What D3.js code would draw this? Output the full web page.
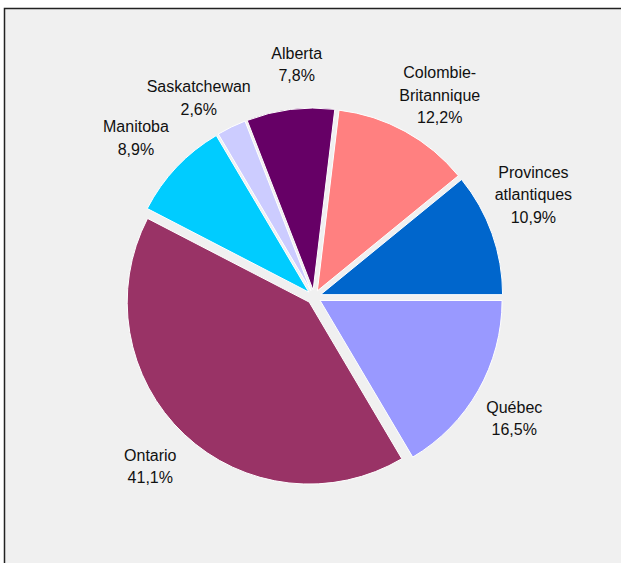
<!DOCTYPE html>
<html>
<head>
<meta charset="utf-8">
<script src="https://cdn.jsdelivr.net/npm/d3@7"></script>
<style>
  body { margin: 0; background: #fff; }
  svg { display: block; font-family: "Liberation Sans", Arial, sans-serif; }
</style>
</head>
<body>
<script>
// slices, clockwise from 3 o'clock
var provinces = ["Québec", "Ontario", "Manitoba", "Saskatchewan", "Alberta", "Colombie-Britannique", "Provinces atlantiques"];
var shares = [16.5, 41.1, 8.9, 2.6, 7.8, 12.2, 10.9];
// how each label is broken into lines
var labelLines = [["Québec"], ["Ontario"], ["Manitoba"], ["Saskatchewan"], ["Alberta"], ["Colombie-", "Britannique"], ["Provinces", "atlantiques"]];
var sliceColors = ["#9999ff", "#993366", "#00ccff", "#ccccff", "#660066", "#ff8080", "#0066cc"];

var width = 621, height = 563;
var cx = 314, cy = 297; // pie centre
var radius = 182;
var explode = 7;  // every slice pulled out a bit
var labelR = 234;
var lineH = 22.5;
// small hand nudges so labels sit like Excel put them (px, in label order)
var labelNudge = [[-3, 11], [-3, 5], [-8, 7], [-13, 17], [12, 5], [13, 9], [-1, -18]];

var svg = d3.select("body").append("svg")
  .attr("width", width)
  .attr("height", height);

// chart frame (runs off the right and bottom of the picture)
svg.append("rect")
  .attr("x", 4.5).attr("y", 8.5)
  .attr("width", 640).attr("height", 580)
  .attr("fill", "#f0f0f0")
  .attr("stroke", "#222")
  .attr("stroke-width", 1.5);

var pie = d3.pie()
  .sort(null)
  .value(function(d){ return d; })
  .startAngle(Math.PI / 2)
  .endAngle(Math.PI / 2 + 2 * Math.PI);

var arcs = pie(shares);

var arc = d3.arc().innerRadius(0).outerRadius(radius);
var labelArc = d3.arc().innerRadius(labelR).outerRadius(labelR);

var color = d3.scaleOrdinal().domain(provinces).range(sliceColors);

var g = svg.append("g").attr("transform", "translate(" + cx + "," + cy + ")");

g.selectAll("path")
  .data(arcs)
  .enter()
  .append("path")
  .attr("d", arc)
  .attr("fill", function(d, i){ return color(provinces[i]); })
  .attr("stroke", "#fff")
  .attr("stroke-width", 1)
  .attr("transform", function(d){
    var mid = (d.startAngle + d.endAngle) / 2;
    return "translate(" + (explode * Math.sin(mid)) + "," + (-explode * Math.cos(mid)) + ")";
  });

// labels: name lines + percentage
var fmt = function(v){ return v.toFixed(1).replace(".", ",") + "%"; };

var labels = g.selectAll("text.lbl")
  .data(arcs)
  .enter()
  .append("text")
  .attr("class", "lbl")
  .attr("text-anchor", "middle")
  .attr("font-size", 16)
  .attr("fill", "#111");

labels.each(function(d, i){
  var lines = labelLines[i].concat([fmt(shares[i])]);
  var c = labelArc.centroid(d);
  var x = c[0] + labelNudge[i][0];
  var y0 = c[1] + labelNudge[i][1] - (lines.length - 1) * lineH / 2;
  var t = d3.select(this);
  lines.forEach(function(line, k){
    t.append("tspan")
      .attr("x", x)
      .attr("y", y0 + k * lineH)
      .text(line);
  });
});
</script>
</body>
</html>
